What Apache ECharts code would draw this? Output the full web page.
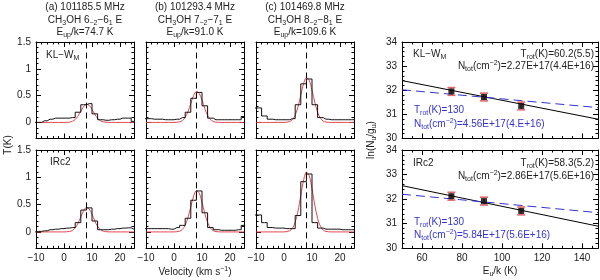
<!DOCTYPE html>
<html><head><meta charset="utf-8">
<script src="https://cdn.jsdelivr.net/npm/echarts@6/dist/echarts.min.js"></script>
<style>html,body{margin:0;padding:0;background:#fff}#c{width:600px;height:280px}</style>
</head><body><div id="c"></div>
<script>
// ---------------- data ----------------
const velChan = [-11,-9,-7,-5,-3,-1,1,3,5,7,9,11,13,15,17,19,21,23,25,27];
const obsKL_a = [0.00,0.00,0.03,0.06,0.08,0.08,0.08,0.09,0.19,0.33,0.35,0.16,0.05,0.04,0.05,0.06,0.08,0.08,0.02,0.02];
const obsKL_b = [0.07,0.07,0.06,0.06,0.05,0.05,0.06,0.09,0.19,0.45,0.56,0.31,0.08,0.05,0.05,0.05,0.05,0.05,0.11,0.11];
const obsKL_c = [0.27,0.27,0.12,0.06,0.05,0.05,0.05,0.07,0.33,0.72,0.81,0.33,0.09,0.06,0.05,0.05,0.05,0.05,0.05,0.05];
const obsIR_a = [0.00,0.01,0.02,0.04,0.05,0.06,0.07,0.08,0.17,0.40,0.44,0.20,0.04,0.04,0.05,0.06,0.07,0.075,0.05,0.05];
const obsIR_b = [0.06,0.06,0.06,0.06,0.06,0.05,0.08,0.12,0.25,0.58,0.75,0.35,0.08,0.04,0.03,0.03,0.03,0.04,0.12,0.12];
const obsIR_c = [0.31,0.31,0.17,0.08,0.07,0.07,0.06,0.06,0.30,0.92,1.06,0.17,0.07,0.05,0.05,0.05,0.04,0.04,0.04,0.04];

const velFit = [-10,-4,0,2,3,4,5,6,7,8,9,10,11,12,13,14,15,17,20,25];
const fitKL_a = [0,0,0,0.006,0.021,0.055,0.118,0.206,0.293,0.339,0.318,0.243,0.151,0.077,0.032,0.011,0.003,0,0,0];
const fitKL_b = [0,0,0,0.011,0.035,0.094,0.201,0.352,0.500,0.578,0.543,0.415,0.258,0.131,0.054,0.018,0.005,0,0,0];
const fitKL_c = [0,0,0,0.016,0.051,0.136,0.291,0.510,0.724,0.837,0.786,0.601,0.374,0.189,0.078,0.026,0.007,0,0,0];
const fitIR_a = [0,0,0,0.009,0.027,0.073,0.156,0.273,0.388,0.448,0.421,0.322,0.200,0.101,0.042,0.014,0.004,0,0,0];
const fitIR_b = [0,0,0,0.014,0.046,0.123,0.264,0.461,0.655,0.757,0.711,0.544,0.338,0.171,0.071,0.024,0.006,0,0,0];
const fitIR_c = [0,0,0,0.021,0.067,0.178,0.382,0.668,0.948,1.096,1.030,0.788,0.490,0.248,0.102,0.034,0.009,0,0,0];
const vlsr = 8;

const specXTicks = [-10,0,10,20];
const specYTicks = [0,0.5,1,1.5];

const eu = [74.7, 91.0, 109.6];
const lnKL = [31.95, 31.72, 31.35];
const lnIR = [32.12, 31.92, 31.52];
const errKL = [0.16, 0.16, 0.16];
const errIR = [0.16, 0.16, 0.16];
const fitX = [50, 148];
const fitKL = [32.40, 30.80];
const fitKL130 = [32.02, 31.28];
const fitIR = [32.55, 30.90];
const fitIR130 = [32.20, 31.45];
const rotXTicks = [60,80,100,120,140];
const rotYTicks = [30,31,32,33,34];

const titleL1 = ['(a) 101185.5 MHz', '(b) 101293.4 MHz', '(c) 101469.8 MHz'];
const titleL2 = ['CH{s|3}OH 6{s|−2}−6{s|1} E', 'CH{s|3}OH 7{s|−2}−7{s|1} E', 'CH{s|3}OH 8{s|−2}−8{s|1} E'];
const titleL3 = ['E{s|up}/k=74.7 K', 'E{s|up}/k=91.0 K', 'E{s|up}/k=109.6 K'];
const sources = ['KL−W{s|M}', 'IRc2'];
const trotFit = ['T{s|rot}(K)=60.2(5.5)', 'T{s|rot}(K)=58.3(5.2)'];
const ntotFit = ['N{s|tot}(cm{p|−2})=2.27E+17(4.4E+16)', 'N{s|tot}(cm{p|−2})=2.86E+17(5.6E+16)'];
const trotFix = ['T{s|rot}(K)=130', 'T{s|rot}(K)=130'];
const ntotFix = ['N{s|tot}(cm{p|−2})=4.56E+17(4.E+16)', 'N{s|tot}(cm{p|−2})=5.84E+17(5.6E+16)'];

// ---------------- layout ----------------
const FF = 'Liberation Sans, Arial, Helvetica, sans-serif';
const RED = '#e4464e', BLUE = '#3434d2';
const specCols = [36, 146, 256], specW = 98;
const rows = [[42, 96.5], [150, 98.3]];
const rotLeft = 402, rotW = 196;

const grids = [], xAxes = [], yAxes = [], series = [];
function range(a, b, st) { const r = []; for (let k = 0; a + k*st <= b + 1e-9; k++) r.push(Math.round((a + k*st)*1000)/1000); return r; }
function minorOf(all, maj) { return all.filter(v => !maj.some(m => Math.abs(m - v) < 1e-6)); }
const fmt = v => (v < 0 ? '−' + Math.abs(v) : String(v));

function addPanel(box, xr, yr, xMaj, xMin, yMaj, yMin, showX, showY) {
  const gi = grids.length;
  grids.push({left: box[0], top: box[1], width: box[2], height: box[3]});
  const xi = xAxes.length, yi = yAxes.length;
  const mk = (pos, r, vals, len, lab, line) => ({
    type: 'value', gridIndex: gi, position: pos, min: r[0], max: r[1],
    axisLine: {show: line, onZero: false, lineStyle: {color: '#000', width: 1}},
    axisTick: {show: true, inside: true, length: len, customValues: vals, lineStyle: {color: '#000', width: 1}},
    axisLabel: {show: lab, customValues: vals, formatter: fmt, color: '#222', fontSize: 10, fontFamily: FF, margin: 5, hideOverlap: false},
    splitLine: {show: false}, minorTick: {show: false}, silent: true
  });
  xAxes.push(mk('bottom', xr, xMaj, 5, showX, true), mk('bottom', xr, xMin, 2.5, false, false),
             mk('top', xr, xMaj, 5, false, true), mk('top', xr, xMin, 2.5, false, false));
  yAxes.push(mk('left', yr, yMaj, 5, showY, true), mk('left', yr, yMin, 2.5, false, false),
             mk('right', yr, yMaj, 5, false, true), mk('right', yr, yMin, 2.5, false, false));
  return {xi, yi};
}

const specXMinor = minorOf(range(-10, 24, 2), specXTicks);
const specYMinor = minorOf(range(-0.3, 1.5, 0.1), specYTicks);
const rotXMinor = minorOf(range(50, 145, 5), rotXTicks);
const rotYMinor = minorOf(range(30, 34, 0.2), rotYTicks);

const obs = [[obsKL_a, obsKL_b, obsKL_c], [obsIR_a, obsIR_b, obsIR_c]];
const fits = [[fitKL_a, fitKL_b, fitKL_c], [fitIR_a, fitIR_b, fitIR_c]];

for (let r = 0; r < 2; r++) {
  for (let c = 0; c < 3; c++) {
    const ax = addPanel([specCols[c], rows[r][0], specW, rows[r][1]], [-10, 25], [-0.3, 1.5],
      specXTicks, specXMinor, specYTicks, specYMinor, r === 1, c === 0);
    series.push({type: 'line', xAxisIndex: ax.xi, yAxisIndex: ax.yi, z: 2,
      data: velFit.map((v, i) => [v, fits[r][c][i]]), smooth: 0.3, showSymbol: false, symbol: 'none',
      lineStyle: {color: RED, width: 1}, silent: true});
    series.push({type: 'line', xAxisIndex: ax.xi, yAxisIndex: ax.yi, z: 3,
      data: velChan.map((v, i) => [v, obs[r][c][i]]), step: 'middle', showSymbol: false, symbol: 'none',
      lineStyle: {color: '#111', width: 1}, silent: true,
      markLine: {silent: true, symbol: 'none', label: {show: false}, animation: false,
        lineStyle: {color: '#000', type: [6, 4], width: 1}, data: [{xAxis: vlsr}]}});
  }
}

function errBar(params, api) {
  const x = api.value(0), y = api.value(1), e = api.value(2);
  const p1 = api.coord([x, y + e]), p2 = api.coord([x, y - e]);
  const w = 4, st = {stroke: '#e26a70', lineWidth: 1.6};
  return {type: 'group', children: [
    {type: 'line', shape: {x1: p1[0], y1: p1[1], x2: p2[0], y2: p2[1]}, style: st},
    {type: 'line', shape: {x1: p1[0]-w, y1: p1[1], x2: p1[0]+w, y2: p1[1]}, style: st},
    {type: 'line', shape: {x1: p2[0]-w, y1: p2[1], x2: p2[0]+w, y2: p2[1]}, style: st}]};
}
const lns = [lnKL, lnIR], errs = [errKL, errIR], fS = [fitKL, fitIR], fD = [fitKL130, fitIR130];
for (let r = 0; r < 2; r++) {
  const ax = addPanel([rotLeft, rows[r][0], rotW, rows[r][1]], [50, 148], [30, 34],
    rotXTicks, rotXMinor, rotYTicks, rotYMinor, r === 1, true);
  const base = {xAxisIndex: ax.xi, yAxisIndex: ax.yi, silent: true};
  series.push(Object.assign({type: 'line', data: fitX.map((x, i) => [x, fS[r][i]]), symbol: 'none',
    lineStyle: {color: '#000', width: 1}, z: 2}, base));
  series.push(Object.assign({type: 'line', data: fitX.map((x, i) => [x, fD[r][i]]), symbol: 'none',
    lineStyle: {color: BLUE, width: 1, type: [9, 5]}, z: 2}, base));
  series.push(Object.assign({type: 'custom', data: eu.map((e, i) => [e, lns[r][i], errs[r][i]]),
    renderItem: errBar, z: 3}, base));
  series.push(Object.assign({type: 'scatter', data: eu.map((e, i) => [e, lns[r][i]]), symbol: 'rect',
    symbolSize: 6, itemStyle: {color: '#000'}, z: 4}, base));
}

// ---------------- texts ----------------
function richFor(color, size) {
  return {
    s: {fontSize: Math.round(size*0.72), fill: color, fontFamily: FF, verticalAlign: 'bottom', lineHeight: 7},
    p: {fontSize: Math.round(size*0.72), fill: color, fontFamily: FF, verticalAlign: 'top', lineHeight: 7}
  };
}
function txt(x, y, text, o) {
  o = o || {};
  const size = o.size || 10, color = o.color || '#222';
  return {type: 'text', x, y, rotation: o.rot || 0, silent: true, z: 20,
    style: {text, fill: color, fontSize: size, fontFamily: FF, lineHeight: size + 3,
      align: o.align || 'left', verticalAlign: 'middle', rich: richFor(color, size)}};
}
const graphic = [];
for (let c = 0; c < 3; c++) {
  const cx = specCols[c] + specW/2;
  graphic.push(txt(cx, 7, titleL1[c], {align: 'center'}));
  graphic.push(txt(cx, 20, titleL2[c], {align: 'center'}));
  graphic.push(txt(cx, 32, titleL3[c], {align: 'center'}));
}
graphic.push(txt(46, 55, sources[0]));
graphic.push(txt(50, 162, sources[1]));
graphic.push(txt(8, 145, 'T(K)', {align: 'center', rot: Math.PI/2}));
graphic.push(txt(195, 272, 'Velocity (km s{p|−1})', {align: 'center'}));
graphic.push(txt(371, 140, 'ln(N{s|u}/g{s|u})', {align: 'center', rot: Math.PI/2}));
graphic.push(txt(500, 271, 'E{s|u}/k (K)', {align: 'center'}));
const rY = [[54, 66, 110, 124], [163, 176, 222, 235]];
for (let r = 0; r < 2; r++) {
  graphic.push(txt(413, rY[r][0], sources[r]));
  graphic.push(txt(594, rY[r][0], trotFit[r], {align: 'right', size: 10}));
  graphic.push(txt(594, rY[r][1], ntotFit[r], {align: 'right', size: 10}));
  graphic.push(txt(414, rY[r][2], trotFix[r], {size: 10, color: BLUE}));
  graphic.push(txt(414, rY[r][3], ntotFix[r], {size: 10, color: BLUE}));
}

const chart = echarts.init(document.getElementById('c'), null, {renderer: 'canvas', width: 600, height: 280});
chart.setOption({animation: false, backgroundColor: '#fff', grid: grids, xAxis: xAxes, yAxis: yAxes, series, graphic});
</script></body></html>
